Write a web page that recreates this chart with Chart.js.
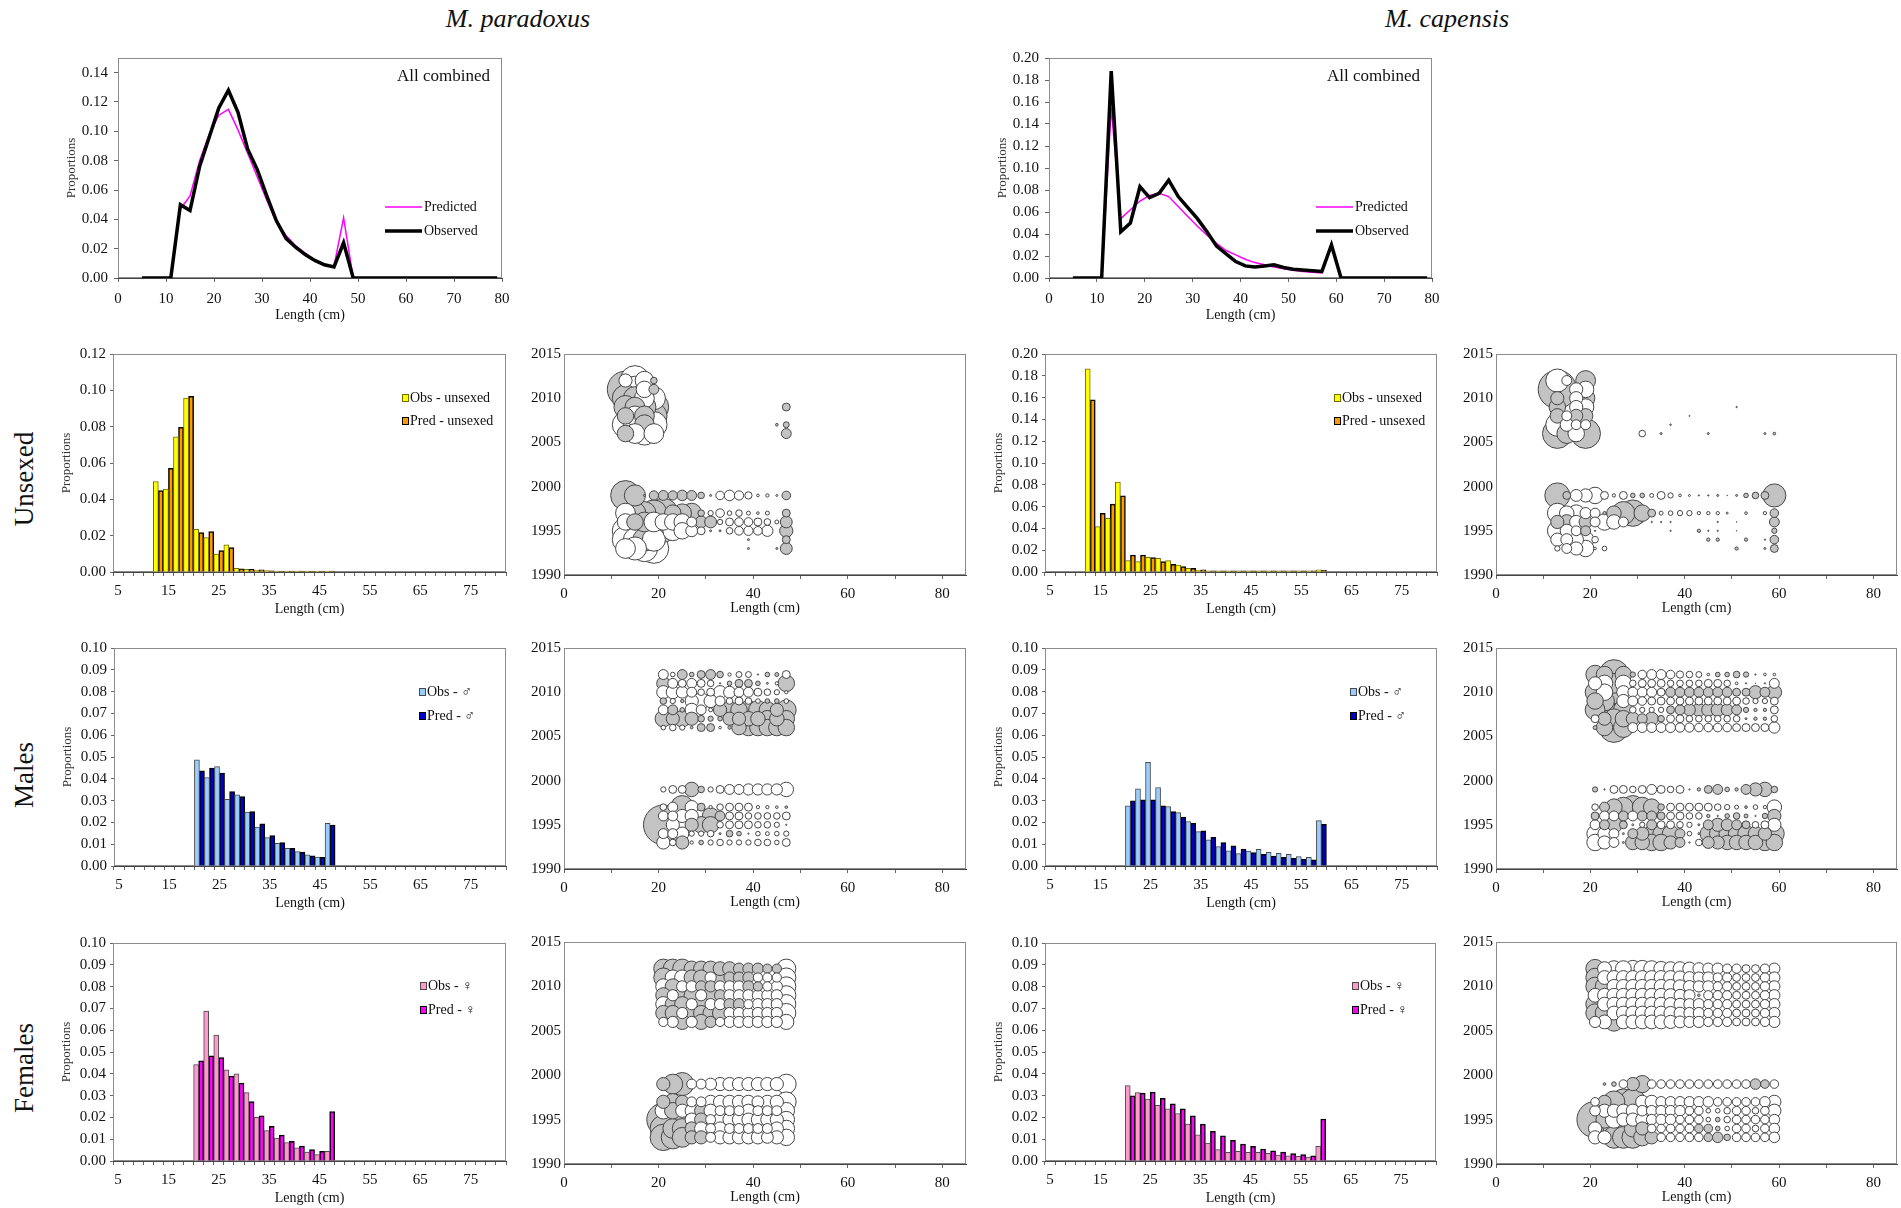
<!DOCTYPE html>
<html>
<head>
<meta charset="utf-8">
<title>Length compositions - M. paradoxus / M. capensis</title>
<script src="https://cdn.jsdelivr.net/npm/chart.js@4.4.1/dist/chart.umd.min.js"></script>
<style>
  body { margin:0; background:#fff; width:1901px; height:1208px; position:relative; overflow:hidden;
         font-family:'Liberation Serif','Times New Roman',serif; color:#111; }
  canvas { position:absolute; }
  .species { position:absolute; width:400px; text-align:center; font-style:italic; font-size:26px; line-height:30px; }
  .rowlab { position:absolute; font-size:27px; line-height:30px; white-space:nowrap;
            transform:translate(-50%,-50%) rotate(-90deg); }
</style>
</head>
<body>
<div class="species" style="left:318px;top:4px">M. paradoxus</div>
<div class="species" style="left:1247px;top:4px">M. capensis</div>
<div class="rowlab" style="left:24px;top:479px">Unsexed</div>
<div class="rowlab" style="left:24px;top:775px">Males</div>
<div class="rowlab" style="left:24px;top:1068px">Females</div>
<script>
const _ = null;

// ---- axes / categories ----
const lineLengths = [5,7,9,11,13,15,17,19,21,23,25,27,29,31,33,35,37,39,41,43,45,47,49,51,53,55,57,59,61,63,65,67,69,71,73,75,77,79];
const binLabels = [5,7,9,11,13,15,17,19,21,23,25,27,29,31,33,35,37,39,41,43,45,47,49,51,53,55,57,59,61,63,65,67,69,71,73,75,77,79,81];
const lengthTicks = [0,10,20,30,40,50,60,70,80];
const parLineTicks = [0,0.02,0.04,0.06,0.08,0.10,0.12,0.14];
const capLineTicks = [0,0.02,0.04,0.06,0.08,0.10,0.12,0.14,0.16,0.18,0.20];
const parUnsexTicks = [0,0.02,0.04,0.06,0.08,0.10,0.12];
const capUnsexTicks = [0,0.02,0.04,0.06,0.08,0.10,0.12,0.14,0.16,0.18,0.20];
const sexTicks = [0,0.01,0.02,0.03,0.04,0.05,0.06,0.07,0.08,0.09,0.10];
const yearTicks = [1990,1995,2000,2005,2010,2015];
const resLenTicks = [0,10,20,30,40,50,60,70,80];
const resYears = [2012,2011,2010,2009,2008,2007,2006,1999,1997,1996,1995,1994,1993];
const unsexParLen = [13,15,17,19,21,23,25,27,29,31,33,35,37,39,41,43,45,47];
const unsexCapLen = [13,15,17,19,21,23,25,27,29,31,33,35,37,39,41,43,45,47,49,51,53,55,57,59];
const sexParLen = [21,23,25,27,29,31,33,35,37,39,41,43,45,47];
const sexCapLen = [21,23,25,27,29,31,33,35,37,39,41,43,45,47,49,51,53,55,57,59];

// ---- all combined (lines) ----
const parAllObs  = [0,0,0,0,0.050,0.046,0.076,0.096,0.116,0.128,0.113,0.088,0.074,0.056,0.039,0.027,0.021,0.016,0.012,0.009,0.0075,0.024,0,0,0,0,0,0,0,0,0,0,0,0,0,0,0,0];
const parAllPred = [0,0,0,0,0.047,0.056,0.080,0.098,0.111,0.115,0.101,0.085,0.069,0.053,0.038,0.029,0.022,0.017,0.012,0.009,0.008,0.041,0,0,0,0,0,0,0,0,0,0,0,0,0,0,0,0];
const capAllObs  = [0,0,0,0,0.188,0.042,0.050,0.083,0.073,0.077,0.089,0.074,0.064,0.054,0.042,0.029,0.022,0.015,0.011,0.010,0.011,0.012,0.0095,0.008,0.0073,0.0067,0.006,0.030,0,0,0,0,0,0,0,0,0,0];
const capAllPred = [0,0,0,0,0.155,0.054,0.062,0.070,0.075,0.077,0.074,0.065,0.056,0.047,0.039,0.0315,0.025,0.021,0.017,0.014,0.012,0.010,0.0085,0.007,0.006,0.0052,0.0046,0.032,0,0,0,0,0,0,0,0,0,0];

// ---- unsexed bars ----
const parUnsexObs  = [0,0,0,0,.0498,.0456,.0744,.0957,.0235,.0189,.0099,.0149,.0020,.0015,.0010,.0008,.0005,.0005,.0005,.0005,.0005,.0005,0,0,0,0,0,0,0,0,0,0,0,0,0,0,0,0,0];
const parUnsexPred = [0,0,0,0,.0448,.0571,.0797,.0967,.0217,.0222,.0118,.0134,.0018,.0015,.0012,.0007,.0005,.0005,.0005,.0005,.0005,.0005,0,0,0,0,0,0,0,0,0,0,0,0,0,0,0,0,0];
const capUnsexObs  = [0,0,0,0,.1865,.0417,.0493,.0824,.0104,.0095,.0135,.0126,.0104,.0064,.0034,.0015,.001,.001,.001,.001,.001,.001,.001,.001,.001,.001,.001,.002,0,0,0,0,0,0,0,0,0,0,0];
const capUnsexPred = [0,0,0,0,.158,.0539,.0622,.0698,.0156,.0156,.0132,.0095,.0070,.0049,.0034,.0020,.001,.001,.001,.001,.001,.001,.001,.001,.001,.001,.001,.0015,0,0,0,0,0,0,0,0,0,0,0];

// ---- males bars ----
const parMaleObs  = [0,0,0,0,0,0,0,0,.0487,.0406,.0456,.0306,.0326,.0247,.0178,.0130,.0104,.0081,.0066,.0051,.0041,.0196,0,0,0,0,0,0,0,0,0,0,0,0,0,0,0,0,0];
const parMalePred = [0,0,0,0,0,0,0,0,.0436,.0449,.0426,.0341,.0319,.0250,.0193,.0139,.0107,.0081,.0064,.0047,.0040,.0188,0,0,0,0,0,0,0,0,0,0,0,0,0,0,0,0,0];
const capMaleObs  = [0,0,0,0,0,0,0,0,.0276,.0354,.0475,.0360,.0273,.0245,.0204,.0158,.0120,.0089,.0070,.0057,.0069,.0077,.0063,.0058,.0054,.0043,.0040,.0208,0,0,0,0,0,0,0,0,0,0,0];
const capMalePred = [0,0,0,0,0,0,0,0,.0299,.0303,.0303,.0276,.0250,.0224,.0196,.0161,.0132,.0107,.0092,.0078,.0061,.0054,.0046,.0040,.0035,.0032,.0028,.0191,0,0,0,0,0,0,0,0,0,0,0];

// ---- females bars ----
const parFemObs  = [0,0,0,0,0,0,0,0,.0442,.0688,.0578,.0418,.0400,.0314,.0200,.0139,.0105,.0085,.0060,.0041,.0029,.0044,0,0,0,0,0,0,0,0,0,0,0,0,0,0,0,0,0];
const parFemPred = [0,0,0,0,0,0,0,0,.0460,.0483,.0474,.0390,.0357,.0273,.0207,.0159,.0119,.0090,.0069,.0052,.0044,.0227,0,0,0,0,0,0,0,0,0,0,0,0,0,0,0,0,0];
const capFemObs  = [0,0,0,0,0,0,0,0,.0346,.0314,.0284,.0255,.0239,.0218,.0169,.0120,.0082,.0052,.0040,.0044,.0040,.0040,.0035,.0027,.0024,.0021,.0018,.0067,0,0,0,0,0,0,0,0,0,0,0];
const capFemPred = [0,0,0,0,0,0,0,0,.0299,.0311,.0316,.0288,.0262,.0239,.0207,.0169,.0136,.0116,.0095,.0078,.0067,.0055,.0047,.0041,.0034,.0029,.0024,.0192,0,0,0,0,0,0,0,0,0,0,0];

// ---- residuals (rows follow resYears; + grey, - white) ----
const parUnsexRes = [
  [-2.0,-4.5,-2.8,1.0,_,_,_,_,_,_,_,_,_,_,_,_,_,_],
  [5.5,-4.0,-2.5,1.5,_,_,_,_,_,_,_,_,_,_,_,_,_,_],
  [4.0,3.5,-3.0,-3.5,_,_,_,_,_,_,_,_,_,_,_,_,_,_],
  [3.5,3.0,3.5,4.5,_,_,_,_,_,_,_,_,_,_,_,_,_,1.2],
  [2.5,-3.0,3.0,4.0,_,_,_,_,_,_,_,_,_,_,_,_,_,_],
  [-4.0,-3.5,3.0,-4.0,_,_,_,_,_,_,_,_,_,_,_,_,0.4,0.9],
  [2.5,-3.0,-3.5,-3.0,_,_,_,_,_,_,_,_,_,_,_,_,_,1.5],
  [4.5,3.2,0.3,1.4,1.5,1.4,1.6,1.5,1.0,0.3,-1.3,-1.6,-1.4,-1.1,-0.4,-0.5,-0.3,1.3],
  [-3.0,3.3,3.5,4.0,4.5,2.5,2.8,3.0,1.0,-0.8,-1.3,-0.7,-1.0,-0.6,-0.4,-0.6,_,1.2],
  [-2.5,2.5,3.0,-3.0,-2.5,-2.5,-2.5,-1.5,1.8,1.8,-0.8,-1.2,-1.3,-1.3,-1.2,-1.0,-0.6,1.8],
  [-4.0,4.0,4.5,4.0,3.5,-3.0,-2.5,-1.8,-1.2,0.3,0.3,-1.0,-1.3,-1.4,-1.3,-1.7,_,2.0],
  [-4.0,-3.5,3.5,-3.5,_,_,_,_,_,_,_,_,_,0.3,_,_,_,1.2],
  [-3.0,-3.5,-4.0,-4.5,_,_,_,_,_,_,_,_,_,0.3,_,_,0.3,1.8]
];
const capUnsexRes = [
  [-3.5,-1.5,_,3.0,_,_,_,_,_,_,_,_,_,_,_,_,_,_,_,_,_,_,_,_],
  [5.8,_,-2.0,-2.5,_,_,_,_,_,_,_,_,_,_,_,_,_,_,_,_,_,_,_,_],
  [2.0,_,-2.0,2.8,_,_,_,_,_,_,_,_,_,_,_,_,_,_,_,_,_,_,_,_],
  [2.5,_,-2.0,-2.5,_,_,_,_,_,_,_,_,_,_,_,_,_,_,_,0.2,_,_,_,_],
  [2.2,-1.5,2.0,2.2,_,_,_,_,_,_,_,_,_,_,0.15,_,_,_,_,_,_,_,_,_],
  [-3.5,-2.0,-1.5,-1.5,_,_,_,_,_,_,_,_,0.25,_,_,_,_,_,_,_,_,_,_,_],
  [4.5,3.0,-2.5,4.5,_,_,_,_,_,-1.0,_,0.3,_,_,_,_,0.3,_,_,_,_,_,0.3,0.4],
  [3.8,1.2,-1.8,-2.0,-2.5,-1.2,-0.5,-1.2,0.7,0.7,-0.6,-1.2,-0.8,-0.4,-0.3,0.2,0.2,0.3,0.1,0.3,0.7,1.0,1.2,3.5],
  [-3.0,-2.2,-2.5,-1.7,-1.5,0.5,2.2,3.5,4.0,2.5,1.2,-0.6,-0.7,-0.8,-0.8,-0.5,-0.5,-0.5,-0.3,_,-0.4,_,-0.5,1.3],
  [2.0,2.2,-2.0,2.0,-1.5,-2.5,-2.2,-1.5,_,-0.2,0.2,0.2,0.2,_,_,_,_,0.2,_,0.1,_,_,_,1.5],
  [-3.0,-2.0,-1.5,1.5,0.2,_,_,_,_,_,_,_,0.2,_,_,0.5,0.2,0.2,_,0.1,_,_,_,0.8],
  [-2.0,-1.8,-2.2,-2.5,-1.0,_,_,_,_,_,_,_,_,_,_,_,0.5,0.5,_,_,0.5,_,0.2,1.3],
  [-0.8,-1.5,-2.0,-2.5,-0.4,-0.7,_,_,_,_,_,_,_,_,_,_,_,_,_,0.5,_,_,0.3,1.2]
];
const parMaleRes = [
  [-1.5,-0.7,1.5,0.7,1.2,1.5,1.0,-0.5,-0.9,-0.9,0.2,0.7,0.6,-1.2],
  [2.0,-1.5,-1.2,-1.5,-1.2,-1.0,0.2,0.7,1.2,1.2,0.7,0.3,-0.5,2.5],
  [-2.0,-2.0,-1.8,-1.5,-1.0,-1.2,-2.0,-1.8,-1.5,-1.5,-1.2,-1.0,-0.8,-0.5],
  [1.0,-0.8,0.5,-2.0,-2.5,-2.0,-1.5,-1.0,-1.2,-1.0,-0.7,0.7,0.7,-0.7],
  [-1.5,1.5,0.7,-2.0,-1.5,-0.6,2.0,2.5,2.5,2.8,2.8,2.5,2.0,3.0],
  [2.5,2.0,2.5,2.0,1.0,0.8,0.7,2.0,2.0,2.2,2.2,2.5,2.2,2.5],
  [-0.7,-1.0,-0.8,0.4,1.2,1.2,-0.4,0.5,2.2,2.5,2.5,2.5,2.5,2.5],
  [-0.8,-1.2,-1.2,2.2,1.0,-0.8,-1.2,-1.5,-1.5,-1.7,-1.7,-1.7,-1.7,-2.2],
  [-1.0,-1.5,3.5,-2.0,1.2,-0.5,-1.0,-1.2,-1.2,-1.2,-0.5,-0.5,-0.4,0.4],
  [-1.5,-1.5,-2.0,-2.0,-2.5,2.5,1.5,-1.2,-1.2,-1.0,-1.0,-1.0,-1.0,-1.2],
  [6.0,-2.0,-2.5,2.0,2.5,2.5,-1.0,-1.2,-1.2,-1.2,-1.0,-1.0,-0.8,0.2],
  [-1.5,-1.5,-2.0,-0.8,-0.8,-1.0,0.3,1.0,0.7,0.2,-0.7,-0.6,-0.7,-0.8],
  [-2.0,-1.0,2.0,-0.5,0.7,-0.8,-1.0,-0.8,-0.8,-0.8,-1.0,-1.0,-0.7,-1.2]
];
const capMaleRes = [
  [2.8,2.5,4.5,2.5,0.8,-1.3,-1.5,-1.5,-1.3,-1.1,-1.0,-0.9,-0.4,0.7,0.7,1.0,0.8,0.2,-0.4,-0.4],
  [-2.0,-2.5,3.0,-2.5,-1.0,-1.2,-1.2,-1.2,-1.0,-1.0,-1.0,-1.0,-1.2,-1.2,-1.0,-0.4,0.2,-0.1,0.2,-1.5],
  [3.0,-2.5,3.5,-2.0,-1.5,-1.5,-1.5,-1.2,1.5,1.5,1.5,1.5,1.5,1.5,1.5,1.2,1.2,2.0,1.5,2.2],
  [2.5,3.0,4.0,-2.0,-1.5,-1.3,-1.2,-1.2,-1.2,-1.2,-1.2,-1.2,-1.2,-1.2,-1.2,-1.2,-1.0,-0.8,-0.8,-1.2],
  [3.0,3.5,4.5,3.0,-1.0,-0.8,-0.8,-0.8,1.2,1.5,1.8,2.0,2.0,2.0,1.8,1.5,0.8,0.5,0.5,-1.2],
  [-1.2,2.0,3.0,2.5,2.0,1.5,2.0,1.0,-1.2,-1.2,-1.0,-1.0,-1.0,-1.0,-1.0,-1.0,0.3,0.5,0.5,-1.0],
  [0.6,2.5,4.5,3.0,-1.5,-1.5,-1.5,-1.5,-1.5,-1.4,-1.4,-1.3,-1.3,-1.3,-1.3,-1.2,-1.2,-1.2,-1.2,-1.7],
  [0.8,0.2,-1.2,-1.2,-1.0,-1.2,-1.5,-1.2,-1.0,-1.2,-0.2,0.5,1.2,1.5,0.7,0.5,1.5,2.0,2.2,1.0],
  [-1.0,1.5,2.5,3.0,3.5,3.0,2.5,1.0,-1.2,-1.2,-1.2,-1.2,-1.2,-1.0,-0.8,-0.6,0.4,-0.7,-0.5,-2.2],
  [1.2,-1.5,-1.5,1.5,-1.5,1.5,1.5,1.2,-1.2,-1.2,-1.0,-1.0,0.5,-0.2,0.7,1.0,0.6,-0.2,0.8,2.0],
  [-1.5,1.5,2.5,1.2,-0.3,-0.8,1.5,-1.2,-1.2,-1.0,-0.8,0.3,1.5,2.0,1.8,1.5,1.2,-1.0,-1.2,-2.0],
  [-2.5,-2.0,-1.5,0.3,1.5,2.0,2.5,2.5,2.5,1.5,-0.7,0.3,2.5,2.5,2.5,2.5,2.5,2.2,2.0,3.0],
  [-2.5,-2.0,-1.5,0.3,2.2,2.2,2.5,2.5,2.0,1.5,0.2,-1.0,1.8,2.0,2.2,2.2,2.2,2.2,2.5,2.5]
];
const parFemRes = [
  [2.9,2.9,2.9,2.3,2.3,2.3,2.1,2.1,1.7,1.7,1.7,1.4,1.4,-2.9],
  [2.9,-2.3,-2.3,2.3,2.3,-1.7,2.3,1.7,1.7,1.7,-1.4,-1.4,-1.4,-2.9],
  [-2.3,2.3,-1.7,-1.7,1.7,1.7,-1.7,-1.7,-1.7,1.7,1.4,-1.4,-1.7,-2.9],
  [2.3,-1.7,2.3,2.3,-1.7,2.3,1.7,-1.7,-1.7,-1.7,-1.7,-1.7,-1.7,-2.9],
  [-2.3,2.3,2.3,-1.7,2.3,-1.7,-1.7,1.7,1.7,-1.4,-1.7,-1.7,-1.7,-2.9],
  [2.3,2.3,-1.7,2.3,2.3,2.3,2.3,-1.7,-1.7,-1.7,-1.7,-1.7,-1.7,-2.9],
  [-1.4,-1.7,2.3,-1.7,2.3,1.7,-1.4,-1.7,-1.7,-1.7,-1.7,-1.7,-1.7,-2.3],
  [2.0,3.0,3.5,-1.5,-1.5,-1.8,-2.0,-2.0,-2.0,-2.0,-2.0,-2.0,-2.0,-3.0],
  [2.0,2.5,2.0,-1.5,-1.5,-2.0,-2.0,-2.0,-2.0,-2.0,-1.8,-2.0,-2.0,-3.0],
  [-2.5,2.5,-2.0,-2.0,2.0,-2.0,-1.5,-1.5,-1.5,-2.0,-1.5,-1.5,-1.5,-2.5],
  [5.0,4.0,3.0,-2.0,2.0,-1.5,-2.0,-2.0,-2.0,-2.0,-2.0,-2.0,-2.0,-2.5],
  [4.0,3.0,3.0,2.0,-2.0,-1.5,-2.0,-1.5,-1.5,-1.5,-1.5,-1.5,-2.0,-2.5],
  [4.0,3.5,3.0,2.0,2.0,-1.5,-2.0,-2.0,-2.0,-2.0,-2.0,-1.8,-2.0,-2.5]
];
const capFemRes = [
  [2.8,-2.1,-2.4,-2.4,-2.5,-2.5,-2.4,-2.2,-2.1,-2.1,-2.0,-1.8,-1.7,-1.7,-1.4,-1.4,-1.2,-1.2,-1.4,-1.7],
  [2.8,-2.1,-2.1,-2.1,-2.1,-2.1,-2.1,-2.1,-2.1,-2.0,-1.8,-1.7,-1.7,-1.4,-1.4,-1.2,-1.2,-1.2,-1.4,-1.7],
  [2.8,2.8,-2.1,-2.1,-2.1,-2.1,-2.1,-2.1,-2.1,-2.0,-1.8,-1.7,-1.7,-1.4,-1.4,-1.2,-1.2,-1.2,-1.4,-1.7],
  [-2.1,-2.1,-2.1,-2.1,-2.1,-2.1,-2.1,-2.1,-2.0,-1.8,-1.7,0.4,-1.4,-1.4,-1.4,-1.2,-1.2,-1.2,-1.4,-1.7],
  [2.8,-2.1,-2.1,-2.1,-2.1,-2.1,-2.1,-2.1,-2.0,-1.8,-1.7,-1.7,-1.4,-1.4,-1.4,-1.2,-1.2,-1.2,-1.4,-1.7],
  [2.8,2.8,-2.1,-2.1,-2.1,-2.1,-2.1,-2.1,-2.0,-1.8,-1.7,-1.7,-1.4,-1.4,-1.4,-1.2,-1.2,-1.2,-1.4,-1.7],
  [-1.7,-2.1,2.8,-2.1,-2.1,-2.1,-2.1,-2.1,-2.0,-1.8,-1.7,-1.7,-1.4,-1.4,-1.4,-1.2,-1.2,-1.2,-1.4,-1.7],
  [_,0.4,0.7,-1.3,2.0,2.6,-1.3,-1.3,-1.3,-1.3,-1.3,-1.3,-1.3,-1.3,-1.3,-1.3,-1.3,1.6,1.3,-1.3],
  [-1.3,2.0,3.3,3.9,3.9,-2.0,-2.0,-1.6,-1.6,-1.6,-1.6,-1.6,-1.6,-1.3,-1.3,-1.3,-1.3,-1.3,-1.6,-2.0],
  [-1.6,-2.0,-2.0,-2.0,-2.0,-1.6,-1.6,-1.6,-1.6,-1.6,-1.3,-1.3,-0.7,-0.7,-1.0,-1.3,-1.3,-1.0,-1.3,-2.0],
  [5.5,2.6,-2.6,-2.0,-2.0,-2.0,-1.6,-1.6,-1.6,-1.3,-1.3,-1.3,-0.7,0.7,-1.0,-1.3,-1.3,-1.3,-1.3,-1.6],
  [-2.0,3.3,3.3,3.3,2.6,2.0,-1.3,-1.3,-1.3,-1.3,-1.3,1.3,1.3,0.7,-0.7,-1.3,-1.3,-1.0,-1.3,-1.6],
  [-2.0,-2.0,3.3,3.3,3.3,2.6,2.0,-1.3,-1.3,-1.3,-1.3,-1.3,1.3,1.6,1.0,-1.3,-1.3,-1.3,-1.3,-1.6]
];

// ---- chart setup ----
const FONT = "'Liberation Serif','DejaVu Serif','DejaVu Sans',serif";
Chart.defaults.font.family = FONT;
Chart.defaults.font.size = 15;
Chart.defaults.color = '#111';
Chart.defaults.animation = false;
Chart.defaults.responsive = false;
Chart.defaults.events = [];
Chart.defaults.plugins.legend.display = false;
Chart.defaults.plugins.tooltip.enabled = false;

// grey plot-area frame, like the spreadsheet original
const frame = {
  id: 'frame',
  beforeDatasetsDraw(chart) {
    const { ctx, chartArea: a } = chart;
    ctx.save();
    ctx.strokeStyle = '#8c8c8c';
    ctx.lineWidth = 1;
    ctx.strokeRect(a.left + 0.5, a.top + 0.5, a.right - a.left - 1, a.bottom - a.top - 1);
    ctx.restore();
  }
};

// legend entries and the "All combined" note
const notes = {
  id: 'notes',
  afterDraw(chart, args, o) {
    const { ctx, chartArea: a } = chart;
    ctx.save();
    ctx.textBaseline = 'middle';
    ctx.font = '14px ' + FONT;
    (o.items || []).forEach(it => {
      const x = a.left + it.dx, y = a.top + it.dy;
      if (it.line) {
        ctx.strokeStyle = it.line;
        ctx.lineWidth = it.lw;
        ctx.beginPath(); ctx.moveTo(x, y); ctx.lineTo(x + 37, y); ctx.stroke();
        ctx.fillStyle = '#111';
        ctx.fillText(it.text, x + 39, y);
      } else {
        ctx.fillStyle = it.fill;
        ctx.fillRect(x, y - 4, 7, 8);
        ctx.strokeStyle = it.edge;
        ctx.lineWidth = 1;
        ctx.strokeRect(x + 0.5, y - 3.5, 6, 7);
        ctx.fillStyle = '#111';
        ctx.fillText(it.text, x + 8, y);
      }
    });
    if (o.note) {
      ctx.font = '17px ' + FONT;
      ctx.textAlign = 'right';
      ctx.fillStyle = '#111';
      ctx.fillText(o.note, a.right - 12, a.top + 19);
    }
    ctx.restore();
  }
};

function mkCanvas(p, yW, xH) {
  const padT = 12, padR = 10;
  const c = document.createElement('canvas');
  const w = p.r - p.l + yW + padR, h = p.b - p.t + padT + xH;
  c.width = w; c.height = h;
  c.style.left = (p.l - yW) + 'px';
  c.style.top = (p.t - padT) + 'px';
  c.style.width = w + 'px';
  c.style.height = h + 'px';
  document.body.appendChild(c);
  c._pad = { left: 0, top: padT, right: padR, bottom: 0 };
  return c;
}

function yAxis(tickVals, max, w, tl, pad, title, fmt) {
  return {
    type: 'linear', min: tickVals[0], max: max,
    afterBuildTicks: s => { s.ticks = tickVals.map(v => ({ value: v })); },
    afterFit: s => { s.width = w; s.paddingTop = 0; s.paddingBottom = 0; },
    ticks: { callback: fmt, padding: pad, color: '#111' },
    grid: { drawOnChartArea: false, drawTicks: tl > 0, tickLength: tl, color: '#666' },
    border: { color: '#444' },
    title: title ? { display: true, text: title, padding: 0, font: { size: 13 }, color: '#333' } : { display: false }
  };
}

function xLinear(tickVals, max, h, pad, every) {
  return {
    type: 'linear', min: 0, max: max,
    afterBuildTicks: s => { s.ticks = tickVals.map(v => ({ value: v })); },
    afterFit: s => { s.height = h; s.paddingLeft = 0; s.paddingRight = 0; },
    ticks: { callback: v => (v % every === 0 ? String(v) : ''), padding: pad, maxRotation: 0, autoSkip: false, color: '#111' },
    grid: { drawOnChartArea: false, tickLength: 4, color: '#666' },
    border: { color: '#444' },
    title: { display: true, text: 'Length (cm)', padding: 0, font: { size: 14 }, color: '#111' }
  };
}

function lineChart(p, obs, pred, yTicks, yMax) {
  const c = mkCanvas(p, 54, 46);
  new Chart(c, {
    type: 'line',
    data: {
      datasets: [
        { label: 'Predicted', data: lineLengths.map((x, i) => ({ x, y: pred[i] })), borderColor: '#ff00ff', borderWidth: 1.5, pointRadius: 0, tension: 0, order: 2 },
        { label: 'Observed', data: lineLengths.map((x, i) => ({ x, y: obs[i] })), borderColor: '#000', borderWidth: 3.5, pointRadius: 0, tension: 0, order: 1 }
      ]
    },
    options: {
      layout: { padding: c._pad, autoPadding: false },
      scales: {
        x: xLinear(lengthTicks, 80, 46, 8, 10),
        y: yAxis(yTicks, yMax, 54, 4, 6, 'Proportions', v => v.toFixed(2))
      },
      plugins: {
        notes: {
          note: 'All combined',
          items: [
            { line: '#ff00ff', lw: 1.5, text: 'Predicted', dx: 267, dy: 149 },
            { line: '#000', lw: 3.5, text: 'Observed', dx: 267, dy: 173 }
          ]
        }
      }
    },
    plugins: [frame, notes]
  });
}

const looks = {
  unsexed: { obs: '#ffff00', obsEdge: '#6e6e00', pred: '#ff9900', names: ['Obs - unsexed', 'Pred - unsexed'], dx: 289, dy: [44, 67] },
  male:    { obs: '#99ccff', obsEdge: '#4a4a4a', pred: '#0000cc', names: ['Obs - \u2642', 'Pred - \u2642'], dx: 305, dy: [44, 68] },
  female:  { obs: '#ff99cc', obsEdge: '#4a4a4a', pred: '#ff00ff', names: ['Obs - \u2640', 'Pred - \u2640'], dx: 307, dy: [43, 67] }
};

function barChart(p, obs, pred, yTicks, look) {
  const c = mkCanvas(p, 54, 46);
  new Chart(c, {
    type: 'bar',
    data: {
      labels: binLabels,
      datasets: [
        { label: look.names[0], data: obs.map(v => v || null), backgroundColor: look.obs, borderColor: look.obsEdge, borderWidth: 1 },
        { label: look.names[1], data: pred.map(v => v || null), backgroundColor: look.pred, borderColor: '#000', borderWidth: 1.5 }
      ]
    },
    options: {
      layout: { padding: c._pad, autoPadding: false },
      datasets: { bar: { barPercentage: 1, categoryPercentage: 1 } },
      scales: {
        x: {
          type: 'category', offset: true,
          afterFit: s => { s.height = 46; s.paddingLeft = 0; s.paddingRight = 0; },
          ticks: { autoSkip: false, maxRotation: 0, padding: 6, color: '#111', callback: (v, i) => (i % 5 === 0 ? String(binLabels[i]) : '') },
          grid: { offset: true, drawOnChartArea: false, tickLength: 4, color: '#666' },
          border: { color: '#444' },
          title: { display: true, text: 'Length (cm)', padding: 0, font: { size: 14 }, color: '#111' }
        },
        y: yAxis(yTicks, yTicks[yTicks.length - 1], 54, 3, 4, 'Proportions', v => v.toFixed(2))
      },
      plugins: {
        notes: {
          items: [
            { fill: look.obs, edge: look.obsEdge, text: look.names[0], dx: look.dx, dy: look.dy[0] },
            { fill: look.pred, edge: '#000', text: look.names[1], dx: look.dx, dy: look.dy[1] }
          ]
        }
      }
    },
    plugins: [frame, notes]
  });
}

function bubbleChart(p, lengths, rows) {
  const c = mkCanvas(p, 45, 42);
  const pts = [];
  rows.forEach((row, j) => row.forEach((v, i) => {
    if (v !== null) pts.push({ x: lengths[i], y: resYears[j], r: 3.3 * Math.abs(v), v });
  }));
  pts.sort((a, b) => b.r - a.r);
  new Chart(c, {
    type: 'bubble',
    data: {
      datasets: [{
        label: 'residuals', data: pts,
        backgroundColor: ctx => (ctx.raw && ctx.raw.v > 0 ? '#c3c3c3' : '#ffffff'),
        borderColor: '#454545', borderWidth: 1
      }]
    },
    options: {
      layout: { padding: c._pad, autoPadding: false },
      scales: {
        x: xLinear(resLenTicks, 85, 42, 6, 20),
        y: yAxis(yearTicks, 2015, 45, 0, 3, null, v => String(v))
      }
    },
    plugins: [frame]
  });
}

// ---- panels ----
lineChart({ l: 118, t: 58, r: 502, b: 278 }, parAllObs, parAllPred, parLineTicks, 0.15);
lineChart({ l: 1049, t: 58, r: 1432, b: 278 }, capAllObs, capAllPred, capLineTicks, 0.20);

barChart({ l: 113, t: 354, r: 506, b: 572 }, parUnsexObs, parUnsexPred, parUnsexTicks, looks.unsexed);
barChart({ l: 1045, t: 354, r: 1437, b: 572 }, capUnsexObs, capUnsexPred, capUnsexTicks, looks.unsexed);
bubbleChart({ l: 564, t: 354, r: 966, b: 575 }, unsexParLen, parUnsexRes);
bubbleChart({ l: 1496, t: 354, r: 1897, b: 575 }, unsexCapLen, capUnsexRes);

barChart({ l: 114, t: 648, r: 506, b: 866 }, parMaleObs, parMalePred, sexTicks, looks.male);
barChart({ l: 1045, t: 648, r: 1437, b: 866 }, capMaleObs, capMalePred, sexTicks, looks.male);
bubbleChart({ l: 564, t: 648, r: 966, b: 869 }, sexParLen, parMaleRes);
bubbleChart({ l: 1496, t: 648, r: 1897, b: 869 }, sexCapLen, capMaleRes);

barChart({ l: 113, t: 943, r: 506, b: 1161 }, parFemObs, parFemPred, sexTicks, looks.female);
barChart({ l: 1045, t: 943, r: 1436, b: 1161 }, capFemObs, capFemPred, sexTicks, looks.female);
bubbleChart({ l: 564, t: 942, r: 966, b: 1164 }, sexParLen, parFemRes);
bubbleChart({ l: 1496, t: 942, r: 1897, b: 1164 }, sexCapLen, capFemRes);
</script>
</body>
</html>
